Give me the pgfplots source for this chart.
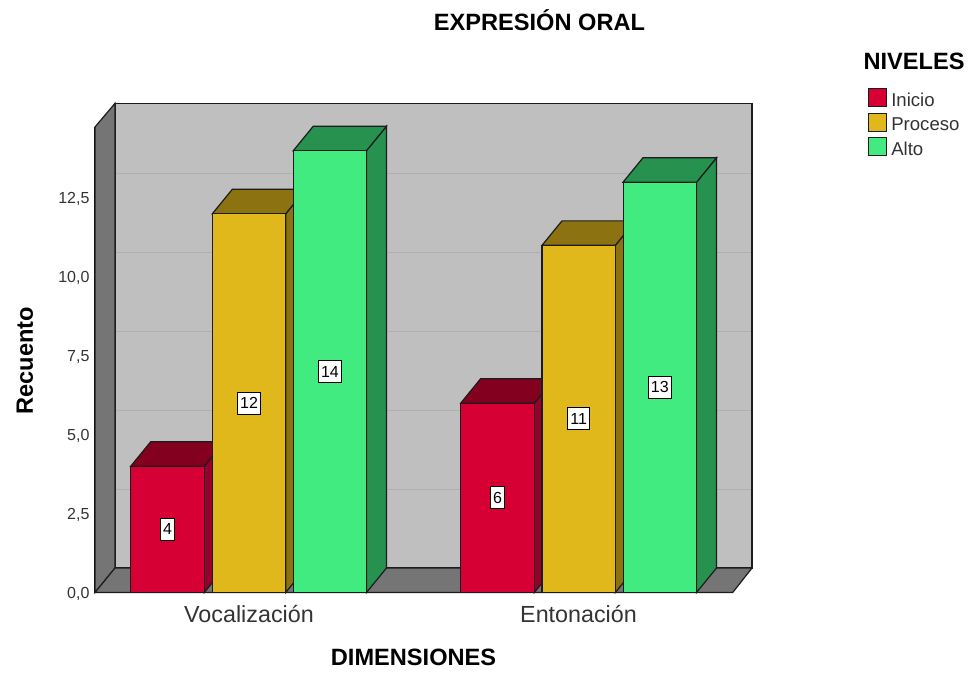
\documentclass[border=0pt]{standalone}
\usepackage{fontspec}
\setmainfont{Liberation Sans}
\usepackage{pgfplots}
\pgfplotsset{compat=1.18}
\definecolor{wallback}{HTML}{BFBFBF}
\definecolor{wallside}{HTML}{757575}
\definecolor{gridc}{HTML}{AFAFAF}
\definecolor{edge}{HTML}{1C1C1C}
\definecolor{redF}{HTML}{D70034}
\definecolor{redT}{HTML}{84001F}
\definecolor{redS}{HTML}{97002A}
\definecolor{yelF}{HTML}{E0B81C}
\definecolor{yelT}{HTML}{8C7211}
\definecolor{greF}{HTML}{41EB7F}
\definecolor{greT}{HTML}{279150}
\definecolor{txt}{HTML}{333333}
\newcommand{\fs}[1]{\fontsize{#1}{#1}\selectfont}
\begin{document}
\begin{tikzpicture}[x=1pt,y=1pt]
\useasboundingbox (0,0) rectangle (979,672);
\begin{axis}[
  at={(95pt,79.5pt)}, anchor=south west,
  scale only axis, width=637.7pt, height=465.5pt,
  xmin=95, xmax=732.7, ymin=0, ymax=14.75,
  clip=false,
  axis x line=bottom, axis y line=left,
  axis line style={-,draw=black,line width=1.4pt},
  xtick={249,578.5},
  xticklabels={Vocalización,Entonación},
  ytick={0,2.5,5,7.5,10,12.5},
  major tick length=0pt,
  tick label style={text=txt},
  yticklabel style={font=\fs{16},xshift=-2pt,yshift=-1pt},
  xticklabel style={font=\fs{23.3},yshift=-9.5pt},
  /pgf/number format/assume math mode=true,
  /pgf/number format/use comma,
  /pgf/number format/fixed,
  /pgf/number format/fixed zerofill,
  /pgf/number format/precision=1,
  title={EXPRESIÓN ORAL},
  title style={at={(rel axis cs:0.697,1.2156)},anchor=center,font=\fs{23.6}\bfseries},
  xlabel={DIMENSIONES},
  xlabel style={at={(rel axis cs:0.4995,-0.1386)},anchor=center,font=\fs{23.6}\bfseries},
  ylabel={Recuento},
  ylabel style={at={(rel axis cs:-0.1098,0.4975)},anchor=center,rotate=0,font=\fs{23.6}\bfseries},
  legend style={at={(rel axis cs:1.2115,1.0838)},anchor=north west,draw=none,fill=none,
     font=\fs{18.6},text=txt,inner sep=0pt,outer sep=0pt,
     /tikz/every odd column/.append style={column sep=2.5pt},
     legend cell align=left,row sep=2.5pt},
  legend image code/.code={\draw[#1,line width=1.2pt] (0pt,-6pt) rectangle (18pt,12pt);},
]
% walls
\addplot[forget plot,fill=wallback,draw=edge,line width=1.2pt] coordinates {(115,0.776) (752,0.776) (752,15.5) (115,15.5)} --cycle;
\addplot[forget plot,fill=wallside,draw=edge,line width=1.2pt] coordinates {(95,0) (115,0.776) (115,15.5) (95,14.75)} --cycle;
\addplot[forget plot,fill=wallside,draw=edge,line width=1.2pt] coordinates {(95,0) (732.7,0) (752,0.776) (115,0.776)} --cycle;
% grid lines on the back wall
\addplot[forget plot,draw=gridc,line width=1pt] coordinates {(115.6,3.276) (751.4,3.276)};
\addplot[forget plot,draw=gridc,line width=1pt] coordinates {(115.6,5.776) (751.4,5.776)};
\addplot[forget plot,draw=gridc,line width=1pt] coordinates {(115.6,8.276) (751.4,8.276)};
\addplot[forget plot,draw=gridc,line width=1pt] coordinates {(115.6,10.776) (751.4,10.776)};
\addplot[forget plot,draw=gridc,line width=1pt] coordinates {(115.6,13.276) (751.4,13.276)};
% Inicio
\addplot[forget plot,fill=redS,draw=edge,line width=1.2pt] coordinates {(204.3,0) (204.3,4) (224.3,4.776) (224.3,0.776)} --cycle;
\addplot[forget plot,fill=redT,draw=edge,line width=1.2pt] coordinates {(130.7,4) (204.3,4) (224.3,4.776) (150.7,4.776)} --cycle;
\addplot[forget plot,fill=redS,draw=edge,line width=1.2pt] coordinates {(534.3,0) (534.3,6) (554.3,6.776) (554.3,0.776)} --cycle;
\addplot[forget plot,fill=redT,draw=edge,line width=1.2pt] coordinates {(460.7,6) (534.3,6) (554.3,6.776) (480.7,6.776)} --cycle;
\addplot[forget plot,ybar,bar width=73.6,bar shift=0pt,fill=redF,draw=edge,line width=1.2pt] coordinates {(167.5,4) (497.5,6)};
% Proceso
\addplot[forget plot,fill=yelT,draw=edge,line width=1.2pt] coordinates {(285.7,0) (285.7,12) (305.7,12.776) (305.7,0.776)} --cycle;
\addplot[forget plot,fill=yelT,draw=edge,line width=1.2pt] coordinates {(212.3,12) (285.7,12) (305.7,12.776) (232.3,12.776)} --cycle;
\addplot[forget plot,fill=yelT,draw=edge,line width=1.2pt] coordinates {(615.3,0) (615.3,11) (635.3,11.776) (635.3,0.776)} --cycle;
\addplot[forget plot,fill=yelT,draw=edge,line width=1.2pt] coordinates {(542,11) (615.3,11) (635.3,11.776) (562,11.776)} --cycle;
\addplot[forget plot,ybar,bar width=73.4,bar shift=0pt,fill=yelF,draw=edge,line width=1.2pt] coordinates {(249,12) (578.6,11)};
% Alto
\addplot[forget plot,fill=greT,draw=edge,line width=1.2pt] coordinates {(366.5,0) (366.5,14) (386.5,14.776) (386.5,0.776)} --cycle;
\addplot[forget plot,fill=greT,draw=edge,line width=1.2pt] coordinates {(293.3,14) (366.5,14) (386.5,14.776) (313.3,14.776)} --cycle;
\addplot[forget plot,fill=greT,draw=edge,line width=1.2pt] coordinates {(696.5,0) (696.5,13) (716.5,13.776) (716.5,0.776)} --cycle;
\addplot[forget plot,fill=greT,draw=edge,line width=1.2pt] coordinates {(623,13) (696.5,13) (716.5,13.776) (643,13.776)} --cycle;
\addplot[forget plot,ybar,bar width=73.3,bar shift=0pt,fill=greF,draw=edge,line width=1.2pt] coordinates {(329.9,14) (659.8,13)};
% legend
\addlegendimage{fill=redF,draw=edge}
\addlegendentry{Inicio}
\addlegendimage{fill=yelF,draw=edge}
\addlegendentry{Proceso}
\addlegendimage{fill=greF,draw=edge}
\addlegendentry{Alto}
% value labels
\tikzset{vl/.style={draw=black,fill=white,line width=0.9pt,font=\fs{16},text=black,inner xsep=2.5pt,inner ysep=0pt,minimum height=22pt}}
\node[vl] at (axis cs:167.5,2) {4};
\node[vl] at (axis cs:249,6) {12};
\node[vl] at (axis cs:329.9,7) {14};
\node[vl] at (axis cs:497.5,3) {6};
\node[vl] at (axis cs:578.6,5.5) {11};
\node[vl] at (axis cs:659.8,6.5) {13};
\node[anchor=center,font=\fs{23.6}\bfseries,inner sep=0pt] at (rel axis cs:1.2845,1.1411) {NIVELES};
\end{axis}
\end{tikzpicture}
\end{document}
